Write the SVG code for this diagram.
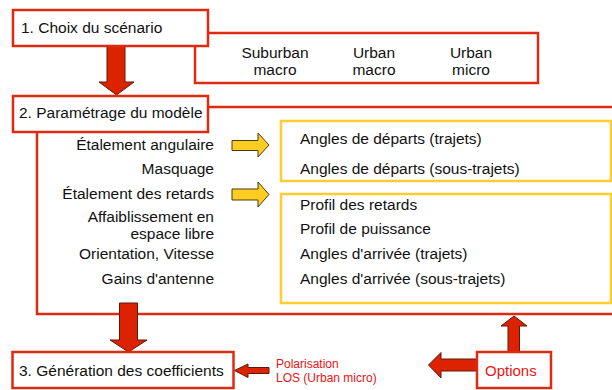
<svg xmlns="http://www.w3.org/2000/svg" width="612" height="390" viewBox="0 0 612 390">
<style>
text{font-family:"Liberation Sans",Arial,sans-serif;font-size:15.5px;fill:#111}
.box{fill:#fff;stroke:#dd2a10;stroke-width:2.5}
.frame{fill:none;stroke:#dd2a10;stroke-width:2.5}
.ybox{fill:none;stroke:#ffcc33;stroke-width:2.5}
.rarrow{fill:#dd2200;stroke:#5a1a0a;stroke-width:1}
.yarrow{fill:#ffcc22;stroke:#4a3a10;stroke-width:1}
.red{fill:#ee1111}
.r{text-anchor:end}
.m{text-anchor:middle}
.small{font-size:12px}
</style>
<rect width="612" height="390" fill="#fff"/>
<g id="scenario-frame">
<rect class="frame" x="195" y="33" width="343" height="50"/>
<text class="m" x="275" y="58">Suburban</text><text class="m" x="275" y="75">macro</text>
<text class="m" x="374" y="58">Urban</text><text class="m" x="374" y="75">macro</text>
<text class="m" x="471" y="58">Urban</text><text class="m" x="471" y="75">micro</text>
</g>
<g id="param-frame">
<rect class="frame" x="37" y="107" width="600" height="207"/>
<text class="r" x="214" y="150">Étalement angulaire</text>
<text class="r" x="214" y="174">Masquage</text>
<text class="r" x="214" y="199">Étalement des retards</text>
<text class="r" x="214" y="222">Affaiblissement en</text>
<text class="r" x="214" y="239">espace libre</text>
<text class="r" x="214" y="259">Orientation, Vitesse</text>
<text class="r" x="214" y="284">Gains d'antenne</text>
</g>
<g id="angles-box">
<rect class="ybox" x="281" y="121" width="330" height="60"/>
<text x="300" y="144">Angles de départs (trajets)</text>
<text x="300" y="174">Angles de départs (sous-trajets)</text>
</g>
<g id="profiles-box">
<rect class="ybox" x="281" y="194" width="330" height="109"/>
<text x="300" y="210">Profil des retards</text>
<text x="300" y="234">Profil de puissance</text>
<text x="300" y="259">Angles d'arrivée (trajets)</text>
<text x="300" y="284">Angles d'arrivée (sous-trajets)</text>
</g>
<g id="connectors">
<path class="rarrow" d="M107,46 H125 V82 H134 L116.5,95 L99,82 H107 Z"/>
<path class="rarrow" d="M119.5,303 H137.5 V340 H147 L128.5,352 L110,340 H119.5 Z"/>
<path class="yarrow" d="M232,140.5 H258 V133 L269,145 L258,157 V150.5 H232 Z"/>
<path class="yarrow" d="M232,189 H258 V182 L269,194.5 L258,207 V200 H232 Z"/>
<path class="rarrow" d="M508,352 V326 H501 L514,316 L527,326 H519.5 V352 Z"/>
<path class="rarrow" d="M477,359 H441 V352.5 L428.5,365 L441,378 V371 H477 Z"/>
<path class="rarrow" d="M269,367.5 H248 V364 L234.5,370.5 L248,377.5 V373.5 H269 Z"/>
</g>
<g id="box1">
<rect class="box" x="13" y="10" width="195" height="36"/>
<text x="21" y="33">1. Choix du scénario</text>
</g>
<g id="box2">
<rect class="box" x="13" y="96" width="195" height="36"/>
<text x="19" y="118">2. Paramétrage du modèle</text>
</g>
<g id="box3">
<rect class="box" x="12.5" y="352" width="221" height="36"/>
<text x="19" y="376">3. Génération des coefficients</text>
</g>
<g id="options">
<rect class="box" x="477" y="352" width="74" height="36"/>
<text class="red" x="485" y="376" style="font-size:15px">Options</text>
</g>
<g id="options-label">
<text class="red small" x="276" y="368">Polarisation</text>
<text class="red small" x="276" y="382">LOS (Urban micro)</text>
</g>
</svg>
